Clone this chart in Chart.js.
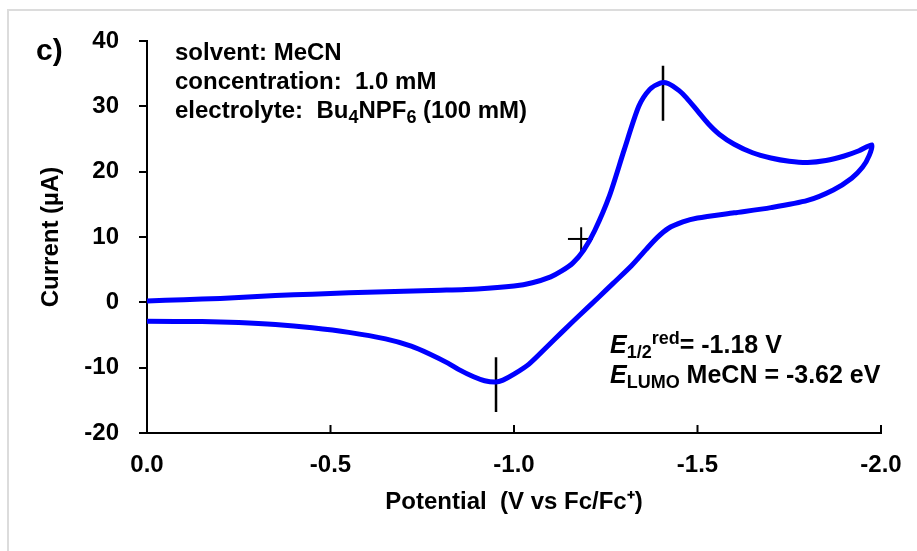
<!DOCTYPE html>
<html>
<head>
<meta charset="utf-8">
<script src="https://cdn.jsdelivr.net/npm/chart.js@4"></script>
<style>
  body { margin: 0; background: #fff; }
  #wrap { width: 917px; height: 551px; }
</style>
</head>
<body>
<div id="wrap"><canvas id="cv" width="917" height="551"></canvas></div>
<script>
// CV loop: forward scan 0 -> -1.98 V, then back to 0 V
const potential = [
  0.00, -0.10, -0.20, -0.30, -0.40, -0.50, -0.60, -0.70, -0.80, -0.90,
  -1.00, -1.05, -1.10, -1.13, -1.16, -1.19, -1.22, -1.26, -1.30, -1.34,
  -1.37, -1.40, -1.42, -1.45, -1.47, -1.50, -1.53, -1.56, -1.60, -1.65,
  -1.70, -1.75, -1.80, -1.85, -1.90, -1.94, -1.975,
  -1.968, -1.95, -1.92, -1.87, -1.80, -1.70, -1.60, -1.50, -1.46, -1.42,
  -1.39, -1.36, -1.32, -1.27, -1.23, -1.18, -1.13, -1.09, -1.04, -1.00,
  -0.97, -0.95, -0.92, -0.89, -0.85, -0.82, -0.77, -0.72, -0.65, -0.55,
  -0.45, -0.35, -0.25, -0.15, 0.00
];
const current = [
  0.2, 0.4, 0.6, 0.9, 1.15, 1.35, 1.55, 1.7, 1.85, 2.05,
  2.5, 3.0, 3.9, 4.8, 6.0, 8.0, 11.0, 16.3, 23.3, 30.0,
  32.6, 33.6, 33.5, 32.4, 31.3, 29.3, 27.3, 25.7, 24.2, 22.9,
  22.1, 21.6, 21.4, 21.7, 22.4, 23.2, 24.1,
  22.5, 20.7, 19.0, 17.2, 15.6, 14.5, 13.7, 12.9, 12.3, 11.3,
  9.9, 8.1, 5.6, 2.9, 0.75, -1.9, -4.6, -6.8, -9.5, -11.0,
  -11.9, -12.2, -12.0, -11.4, -10.3, -9.3, -7.9, -6.7, -5.6, -4.6,
  -3.9, -3.4, -3.1, -2.95, -2.9
];

// peak markers (vertical bars) and E1/2 cross
const peakMarkX = [-1.406, -0.951];
const peakMarkTop = [36.2, -8.4];
const peakMarkBottom = [27.8, -16.8];
const halfWaveX = -1.183;
const halfWaveY = 9.7;

const xTicks = [0, -0.5, -1.0, -1.5, -2.0];
const yMin = -20, yMax = 40, yStep = 10;

const FONT = '"Liberation Sans", Arial, sans-serif';
Chart.defaults.font.family = FONT;
Chart.defaults.color = '#000';

const markSets = peakMarkX.map((x, i) => ({
  data: [{ x, y: peakMarkTop[i] }, { x, y: peakMarkBottom[i] }],
  borderColor: '#000', borderWidth: 2.5, pointRadius: 0, showLine: true
}));
markSets.push({
  data: [{ x: halfWaveX + 0.036, y: halfWaveY }, { x: halfWaveX - 0.032, y: halfWaveY }],
  borderColor: '#000', borderWidth: 2, pointRadius: 0, showLine: true
});
markSets.push({
  data: [{ x: halfWaveX, y: halfWaveY + 1.8 }, { x: halfWaveX, y: halfWaveY - 2.2 }],
  borderColor: '#000', borderWidth: 2, pointRadius: 0, showLine: true
});

// draws a line of text with sub/superscript runs
function drawRuns(ctx, x, y, runs, size) {
  runs.forEach(r => {
    const small = r.sub || r.sup;
    const s = small ? Math.round(size * 0.73) : size;
    ctx.font = (r.italic ? 'italic ' : '') + 'bold ' + s + 'px ' + FONT;
    const dy = r.sub ? size * 0.2 : (r.sup ? -size * 0.36 : 0);
    ctx.fillText(r.t, x, y + dy);
    x += ctx.measureText(r.t).width;
  });
}

const decor = {
  id: 'decor',
  beforeDraw(chart) {
    const ctx = chart.ctx;
    ctx.save();
    ctx.fillStyle = '#fff';
    ctx.fillRect(0, 0, chart.width, chart.height);
    ctx.strokeStyle = '#dcdcdc';
    ctx.lineWidth = 2;
    ctx.beginPath();
    ctx.moveTo(8, chart.height);
    ctx.lineTo(8, 10);
    ctx.lineTo(chart.width, 10);
    ctx.stroke();
    ctx.restore();
  },
  afterDraw(chart) {
    const ctx = chart.ctx;
    const xs = chart.scales.x;
    const bottom = chart.chartArea.bottom;
    ctx.save();
    // x ticks point inward
    ctx.strokeStyle = '#000';
    ctx.lineWidth = 2;
    xs.ticks.forEach(t => {
      const px = xs.getPixelForValue(t.value);
      ctx.beginPath();
      ctx.moveTo(px, bottom);
      ctx.lineTo(px, bottom - 8);
      ctx.stroke();
    });
    ctx.fillStyle = '#000';
    ctx.textBaseline = 'alphabetic';
    ctx.textAlign = 'left';
    ctx.font = 'bold 30px ' + FONT;
    ctx.fillText('c)', 36, 60);
    drawRuns(ctx, 175, 60, [{ t: 'solvent: MeCN' }], 24);
    drawRuns(ctx, 175, 89, [{ t: 'concentration:  1.0 mM' }], 24);
    drawRuns(ctx, 175, 118, [{ t: 'electrolyte:  Bu' }, { t: '4', sub: true }, { t: 'NPF' },
      { t: '6', sub: true }, { t: ' (100 mM)' }], 24);
    drawRuns(ctx, 610, 353, [{ t: 'E', italic: true }, { t: '1/2', sub: true }, { t: 'red', sup: true },
      { t: '= -1.18 V' }], 25);
    drawRuns(ctx, 610, 383, [{ t: 'E', italic: true }, { t: 'LUMO', sub: true },
      { t: ' MeCN = -3.62 eV' }], 25);
    ctx.restore();
  }
};

new Chart(document.getElementById('cv'), {
  type: 'scatter',
  data: {
    datasets: [{
      data: potential.map((x, i) => ({ x, y: current[i] })),
      showLine: true,
      borderColor: '#0000ff',
      borderWidth: 5,
      borderCapStyle: 'round',
      borderJoinStyle: 'round',
      pointRadius: 0,
      tension: 0.25
    }, ...markSets]
  },
  options: {
    responsive: false,
    animation: false,
    layout: { padding: { left: 37, right: 36, top: 41, bottom: 32 } },
    plugins: { legend: { display: false }, tooltip: { enabled: false } },
    scales: {
      x: {
        type: 'linear',
        min: -2, max: 0, reverse: true,
        afterBuildTicks: s => { s.ticks = xTicks.map(v => ({ value: v })); },
        afterFit: s => { s.height = 86; s.paddingLeft = 0; s.paddingRight = 0; },
        ticks: {
          font: { size: 24, weight: 'bold' },
          padding: 18,
          callback: v => v === 0 ? '0.0' : v.toFixed(1)
        },
        grid: { display: true, drawOnChartArea: false, drawTicks: false },
        border: { display: true, color: '#000', width: 2 },
        title: {
          display: true, text: 'Potential  (V vs Fc/Fc⁺)',
          font: { size: 24, weight: 'bold' }, padding: { top: 0, bottom: 2 }
        }
      },
      y: {
        min: yMin, max: yMax,
        afterFit: s => { s.width = 110; },
        ticks: { stepSize: yStep, font: { size: 24, weight: 'bold' }, padding: 20 },
        grid: { display: true, drawOnChartArea: false, drawTicks: true, tickLength: 8, color: '#000', lineWidth: 2 },
        border: { display: true, color: '#000', width: 2 },
        title: {
          display: true, text: 'Current (µA)',
          font: { size: 24, weight: 'bold' }, padding: 0
        }
      }
    }
  },
  plugins: [decor]
});
</script>
</body>
</html>
